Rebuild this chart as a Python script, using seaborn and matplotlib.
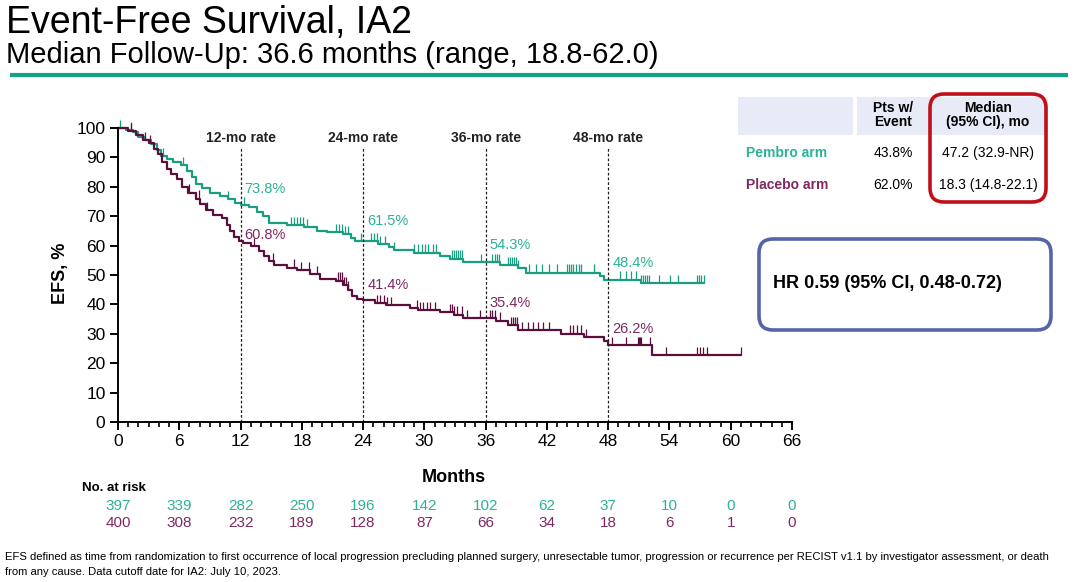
import numpy as np
import pandas as pd
import matplotlib
matplotlib.use("Agg")
import matplotlib.pyplot as plt
import matplotlib.transforms as mtransforms
from matplotlib.patches import FancyBboxPatch, Rectangle
from matplotlib.ticker import MultipleLocator
import seaborn as sns

# curva Kaplan-Meier, brazo pembro (meses, % EFS)
pembro_t = [0, 0.8, 1.5, 2.0, 2.6, 3.2, 3.8, 4.2, 4.8, 5.4, 6.2, 6.8, 7.2, 7.6, 8.2, 9.0,
            10.0, 10.8, 11.5, 12.0, 12.8, 13.6, 14.2, 14.8, 16.5, 18.2, 19.5, 20.5, 22.0,
            22.8, 23.2, 25.5, 26.5, 27.0, 29.0, 31.5, 32.5, 33.8, 37.4, 39.2, 40.0, 47.2,
            47.6, 51.2]
pembro_s = [100, 99.2, 98.5, 97.0, 96.0, 94.5, 92.5, 90.5, 89.5, 88.6, 87.5, 85.5, 83.5,
            81.0, 79.5, 78.0, 77.0, 75.8, 74.5, 73.8, 73.0, 71.5, 70.0, 67.8, 67.0, 66.2,
            65.0, 64.5, 63.8, 62.5, 61.5, 60.5, 59.5, 58.5, 57.6, 56.6, 55.6, 54.3, 53.4,
            52.4, 50.8, 49.5, 48.4, 47.2]
pembro_fin = 57.4
pembro_cens = [0.2, 1.3, 4.4, 6.4, 10.8, 12.3, 16.9, 17.2, 17.5, 17.8, 18.1, 18.5, 21.3,
               21.6, 21.9, 22.2, 22.5, 23.8, 24.8, 25.1, 25.4, 25.7, 26.1, 27.0, 29.0, 29.4,
               29.8, 30.1, 30.4, 30.8, 31.1, 32.7, 32.9, 33.1, 33.3, 33.5, 33.7, 35.5, 36.6,
               36.9, 37.1, 37.3, 38.2, 38.4, 38.6, 38.8, 39.0, 39.2, 40.2, 40.9, 41.5, 42.2,
               43.0, 44.0, 44.2, 44.4, 44.6, 44.8, 45.1, 45.3, 46.6, 49.2, 49.7, 50.2, 50.7,
               51.2, 51.4, 51.6, 51.8, 52.0, 53.0, 54.1, 54.8, 56.7, 56.9, 57.1, 57.4]

# curva Kaplan-Meier, brazo placebo
placebo_t = [0, 1.0, 1.8, 2.4, 3.0, 3.5, 3.9, 4.3, 4.8, 5.2, 5.8, 6.3, 6.9, 7.6, 8.0, 8.6,
             9.3, 10.2, 10.7, 11.0, 11.4, 11.8, 12.2, 13.0, 13.8, 14.3, 14.8, 15.3, 16.5,
             17.5, 18.8, 19.8, 21.3, 22.0, 22.5, 22.9, 23.4, 24.0, 25.2, 26.2, 28.6, 29.4,
             31.5, 32.9, 33.8, 37.0, 38.2, 39.2, 43.4, 45.6, 47.6, 48.0, 52.3]
placebo_s = [100, 99.0, 97.5, 96.0, 94.8, 93.0, 91.0, 88.5, 86.0, 84.5, 82.5, 80.0, 78.0,
             76.0, 74.0, 72.0, 70.5, 69.5, 67.0, 65.0, 63.0, 61.5, 60.8, 59.7, 58.2, 56.5,
             54.8, 53.4, 52.5, 51.6, 50.2, 48.8, 48.1, 46.5, 45.0, 43.0, 42.0, 41.4, 40.5,
             39.7, 38.8, 38.0, 37.4, 36.5, 35.4, 34.5, 33.0, 31.3, 30.1, 28.8, 27.4, 26.2,
             22.7]
placebo_fin = 61.0
placebo_cens = [1.3, 2.6, 3.1, 7.0, 7.9, 8.7, 13.3, 15.2, 17.2, 17.9, 18.7, 19.5, 21.5,
                21.7, 21.9, 22.1, 22.3, 22.5, 25.4, 25.7, 26.0, 26.3, 26.7, 29.3, 29.6, 29.9,
                30.3, 30.6, 31.0, 32.5, 32.7, 32.9, 33.2, 33.7, 34.2, 35.4, 36.4, 36.6, 36.9,
                37.4, 38.5, 38.7, 38.9, 39.1, 39.6, 40.1, 40.6, 41.1, 41.6, 42.2, 44.3, 44.6,
                44.9, 45.3, 45.8, 48.4, 49.7, 50.9, 51.0, 51.1, 51.2, 52.1, 53.7, 56.7, 57.0,
                57.3, 57.7, 61.0]

hitos = [12, 24, 36, 48]
tasa_pembro = [73.8, 61.5, 54.3, 48.4]
tasa_placebo = [60.8, 41.4, 35.4, 26.2]

meses_riesgo = [0, 6, 12, 18, 24, 30, 36, 42, 48, 54, 60, 66]
riesgo_pembro = [397, 339, 282, 250, 196, 142, 102, 62, 37, 10, 0, 0]
riesgo_placebo = [400, 308, 232, 189, 128, 87, 66, 34, 18, 6, 1, 0]

VERDE = "#1a9e82"
VERDE_TXT = "#2bb297"
MORADO = "#5a0f3c"
MORADO_TXT = "#7e2a60"

sns.set_theme(style="ticks")
plt.rcParams['font.family'] = ['Liberation Sans', 'DejaVu Sans']
plt.rcParams['text.color'] = 'black'
plt.rcParams['axes.labelcolor'] = 'black'

fig = plt.figure(figsize=(10.8, 5.82), dpi=100)
ov = fig.add_axes([0, 0, 1, 1])
ov.set_xlim(0, 1080)
ov.set_ylim(582, 0)
ov.axis('off')

ax = fig.add_axes([118 / 1080, 1 - 422 / 582, 674 / 1080, 294 / 582])
ax.patch.set_alpha(0)


def escalones(t, s, fin):
    return pd.DataFrame({"mes": list(t) + [fin], "efs": list(s) + [s[-1]]})


def valor_en(t, s, c):
    idx = np.searchsorted(t, c, side='right') - 1
    return np.array(s)[idx]


for t, s, fin, cens, col in [(pembro_t, pembro_s, pembro_fin, pembro_cens, VERDE),
                             (placebo_t, placebo_s, placebo_fin, placebo_cens, MORADO)]:
    df = escalones(t, s, fin)
    sns.lineplot(data=df, x="mes", y="efs", drawstyle="steps-post", estimator=None,
                 sort=False, color=col, linewidth=1.6, ax=ax, clip_on=False)
    yc = valor_en(t, s, np.array(cens))
    ax.vlines(cens, yc, yc + 2.8, color=col, linewidth=0.9, clip_on=False)

# lineas de tasa
ax.vlines(hitos, 0, 93.2, colors="#222222", linestyles=(0, (2.2, 1.6)), linewidth=0.9)
for h in hitos:
    ax.text(h, 96.6, f"{h}-mo rate", ha="center", va="center", fontsize=10,
            fontweight="bold", color="#222222", clip_on=False)
desp_pembro = [5.3, 6.7, 6.0, 5.8]
desp_placebo = [2.8, 5.2, 5.2, 5.3]
for h, a, b, da, db in zip(hitos, tasa_pembro, tasa_placebo, desp_pembro, desp_placebo):
    ax.text(h + 0.4, a + da, f"{a}%", ha="left", va="center", fontsize=10.5, color=VERDE_TXT)
    ax.text(h + 0.4, b + db, f"{b}%", ha="left", va="center", fontsize=10.5, color=MORADO_TXT)

ax.set_xlim(0, 66)
ax.set_ylim(0, 100)
ax.set_xticks(meses_riesgo)
ax.set_yticks(range(0, 101, 10))
ax.xaxis.set_minor_locator(MultipleLocator(1))
ax.tick_params(axis="both", which="major", direction="out", length=6, width=1.4,
               labelsize=12.5, color="black", labelcolor="black", pad=3)
ax.tick_params(axis="x", which="minor", direction="out", length=3.5, width=1.2, color="black")
for lado in ["top", "right"]:
    ax.spines[lado].set_visible(False)
for lado in ["left", "bottom"]:
    ax.spines[lado].set_linewidth(1.4)
    ax.spines[lado].set_color("black")
ax.set_xlabel("")
ax.set_ylabel("")

ov.text(60, 273, "EFS, %", rotation=90, ha="center", va="center", fontsize=13,
        fontweight="bold")
ov.text(454, 477, "Months", ha="center", va="center", fontsize=13, fontweight="bold")

# tabla de pacientes en riesgo
ov.text(82, 488, "No. at risk", ha="left", va="center", fontsize=9.5, fontweight="bold")
mezcla = mtransforms.blended_transform_factory(ax.transData, ov.transData)
for m, a, b in zip(meses_riesgo, riesgo_pembro, riesgo_placebo):
    ov.text(m, 506, str(a), transform=mezcla, ha="center", va="center", fontsize=11,
            color=VERDE_TXT)
    ov.text(m, 523, str(b), transform=mezcla, ha="center", va="center", fontsize=11,
            color=MORADO_TXT)

# titulos
ov.text(6, 33, "Event-Free Survival, IA2", ha="left", va="baseline", fontsize=27)
ov.text(6, 63, "Median Follow-Up: 36.6 months (range, 18.8-62.0)", ha="left",
        va="baseline", fontsize=21)
ov.plot([10, 1068], [75, 75], color="#16a085", linewidth=3, solid_capstyle="butt")

# tabla de medianas
ov.add_patch(Rectangle((738, 97), 115, 38, color="#e7ebf7", lw=0))
ov.add_patch(Rectangle((857, 97), 191, 38, color="#e7ebf7", lw=0))
ov.text(893, 108, "Pts w/", ha="center", va="center", fontsize=10, fontweight="bold")
ov.text(893, 122, "Event", ha="center", va="center", fontsize=10, fontweight="bold")
ov.text(988, 108, "Median", ha="center", va="center", fontsize=10, fontweight="bold")
ov.text(988, 122, "(95% CI), mo", ha="center", va="center", fontsize=10, fontweight="bold")
ov.text(746, 153, "Pembro arm", ha="left", va="center", fontsize=10, fontweight="bold",
        color=VERDE_TXT)
ov.text(746, 185, "Placebo arm", ha="left", va="center", fontsize=10, fontweight="bold",
        color=MORADO_TXT)
ov.text(893, 153, "43.8%", ha="center", va="center", fontsize=10)
ov.text(893, 185, "62.0%", ha="center", va="center", fontsize=10)
ov.text(988, 153, "47.2 (32.9-NR)", ha="center", va="center", fontsize=10)
ov.text(988, 185, "18.3 (14.8-22.1)", ha="center", va="center", fontsize=10)
ov.add_patch(FancyBboxPatch((930, 94), 116, 108, boxstyle="round,pad=0,rounding_size=14",
                            fill=False, edgecolor="#c0101a", linewidth=2.6))

# caja HR
ov.add_patch(FancyBboxPatch((759, 239), 292, 91, boxstyle="round,pad=0,rounding_size=14",
                            fill=False, edgecolor="#5565a8", linewidth=2.6))
ov.text(773, 283, "HR 0.59 (95% CI, 0.48-0.72)", ha="left", va="center", fontsize=13,
        fontweight="bold")

# nota al pie
ov.text(5, 557, "EFS defined as time from randomization to first occurrence of local progression "
        "precluding planned surgery, unresectable tumor, progression or recurrence per RECIST "
        "v1.1 by investigator assessment, or death", ha="left", va="center", fontsize=8.1)
ov.text(5, 572, "from any cause. Data cutoff date for IA2: July 10, 2023.", ha="left",
        va="center", fontsize=8.1)

fig.savefig("out.png", dpi=100)
